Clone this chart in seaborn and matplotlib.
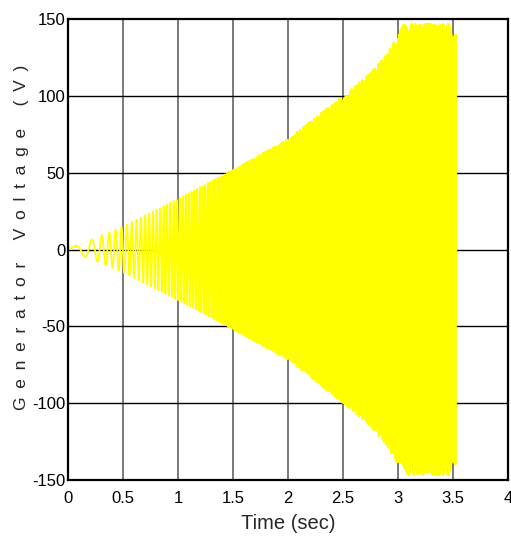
import numpy as np
import pandas as pd
import matplotlib
matplotlib.use("Agg")
import matplotlib.pyplot as plt
import seaborn as sns

# Envelope of the generator voltage (time in s, volts)
env_t = [0.0, 0.1, 0.5, 1.0, 1.5, 2.0, 2.5, 2.75, 2.9, 3.0, 3.05, 3.53]
env_v = [1.0, 3.0, 15.0, 33.0, 52.0, 72.0, 100.0, 115.0, 128.0, 140.0, 147.0, 147.0]
# Electrical frequency estimated from the visible cycle spacing (Hz)
freq_t = [0.0, 0.2, 0.34, 0.5, 0.7, 0.9, 1.25, 2.0, 3.0, 3.53]
freq_hz = [3.0, 8.0, 15.0, 20.0, 27.0, 33.0, 42.0, 70.0, 110.0, 125.0]
t_end = 3.53
sample_rate = 1000.0

x_ticks = [0, 0.5, 1, 1.5, 2, 2.5, 3, 3.5, 4]
x_tick_labels = ["0", "0.5", "1", "1.5", "2", "2.5", "3", "3.5", "4"]
y_ticks = [-150, -100, -50, 0, 50, 100, 150]
y_tick_labels = ["-150", "-100", "-50", "0", "50", "100", "150"]

t = np.arange(0.0, t_end, 1.0 / sample_rate)
amp = np.interp(t, env_t, env_v)
f = np.interp(t, freq_t, freq_hz)
phase = 2 * np.pi * np.cumsum(f) / sample_rate
v = amp * np.sin(phase)
df = pd.DataFrame({"Time": t, "Voltage": v})

sns.set_style("white")
plt.rcParams["font.family"] = ["Liberation Sans", "DejaVu Sans"]

fig = plt.figure(figsize=(5.11, 5.38), dpi=100)
ax = fig.add_axes([68 / 511, 1 - 480 / 538, 440 / 511, 461 / 538])

for xv in x_ticks[1:-1]:
    ax.axvline(xv, color="#6e6e6e", lw=1.3, zorder=1)
for yv in y_ticks[1:-1]:
    ax.axhline(yv, color="black", lw=1.0, zorder=1)

sns.lineplot(data=df, x="Time", y="Voltage", color="#ffff00", lw=1.3,
             estimator=None, sort=False, ax=ax, zorder=2)

ax.set_xlim(0, 4)
ax.set_ylim(-150, 150)
ax.set_xticks(x_ticks)
ax.set_xticklabels(x_tick_labels)
ax.set_yticks(y_ticks)
ax.set_yticklabels(y_tick_labels)
ax.tick_params(axis="both", length=0, labelsize=12, colors="black")
ax.tick_params(axis="x", pad=8)
ax.tick_params(axis="y", pad=2)
for s in ax.spines.values():
    s.set_color("black")
    s.set_linewidth(1.6)
    s.set_zorder(5)

ax.set_xlabel("Time (sec)", fontsize=14.5, labelpad=6)
ylab = "\u2002".join("Generator Voltage (V)")
ax.set_ylabel(ylab, fontsize=12.5)
ax.yaxis.set_label_coords(-0.088, 0.526)

fig.savefig("out.png", dpi=100, facecolor="white")
